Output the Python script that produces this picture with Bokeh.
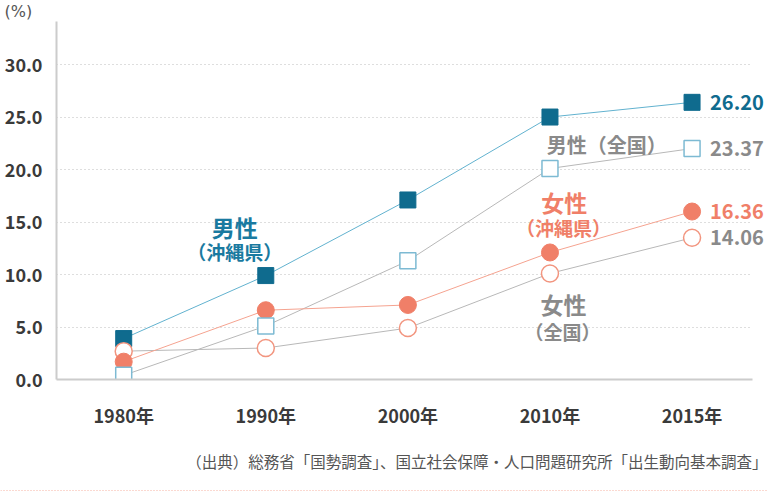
from bokeh.plotting import figure
from bokeh.models import Range1d, FixedTicker, Label, Span, ColumnDataSource
from bokeh.layouts import column
from bokeh.embed import file_html
from bokeh.resources import INLINE

# ---- data ----
years = ["1980年", "1990年", "2000年", "2010年", "2015年"]
male_okinawa = [3.9, 9.9, 17.1, 25.0, 26.4]
male_national = [0.4, 5.1, 11.3, 20.1, 22.0]
female_okinawa = [1.7, 6.6, 7.1, 12.1, 16.0]
female_national = [2.7, 3.0, 4.9, 10.1, 13.5]
end_labels = ["26.20", "23.37", "16.36", "14.06"]
y_ticks = [0, 5, 10, 15, 20, 25, 30]
source_note = "（出典）総務省「国勢調査」、国立社会保障・人口問題研究所「出生動向基本調査」"

FONT = "Noto Sans CJK JP"
TEAL = "#0f6b8e"
TEAL_TXT = "#1a7aa0"
TEAL_LINE = "#62b2cf"
SALMON = "#f07f68"
SALMON_LINE = "#f5a390"
GRAY_TXT = "#8a8a8a"
GRAY_LINE = "#b8b8b8"
SQ_BORDER = "#7dbad3"

xs = list(range(len(years)))
X0, X_AXIS_END, X_GRID_END, X1 = -0.473, 4.425, 4.411, 4.538
TOP_H = 21


def no_align(fig):
    try:
        fig.frame_align = False
    except Exception:
        pass


def strip(h):
    f = figure(width=768, height=h, output_backend="svg", toolbar_location=None,
               x_range=Range1d(0, 768), y_range=Range1d(h, 0),
               min_border=0, min_border_left=0, min_border_right=0,
               min_border_top=0, min_border_bottom=0)
    f.axis.visible = False
    f.grid.visible = False
    f.outline_line_color = None
    no_align(f)
    return f


# ---- top strip: unit label ----
p0 = strip(TOP_H)
p0.add_layout(Label(x=4, y=10.5, text="(%)", text_font="DejaVu Sans", text_font_size="16px",
                    text_color="#555555", text_align="left", text_baseline="middle"))

# ---- main chart ----
p = figure(width=768, height=430 - TOP_H, output_backend="svg", toolbar_location=None,
           x_range=Range1d(X0, X1), y_range=Range1d(0, 34.1),
           min_border_left=56, min_border_right=0, min_border_top=0, min_border_bottom=48)
p.outline_line_color = None
no_align(p)

p.yaxis.ticker = FixedTicker(ticks=y_ticks)
p.yaxis.major_label_overrides = {t: f"{t:.1f}" for t in y_ticks}
p.xaxis.ticker = FixedTicker(ticks=xs)
p.xaxis.major_label_overrides = {i: y for i, y in enumerate(years)}
p.xaxis.bounds = (X0, X_AXIS_END)
for ax in (p.xaxis, p.yaxis):
    ax.axis_line_color = "#cccccc"
    ax.axis_line_width = 2
    ax.major_tick_line_color = None
    ax.minor_tick_line_color = None
    ax.major_label_text_font = FONT
    ax.major_label_text_font_style = "bold"
    ax.major_label_text_font_size = "18px"
    ax.major_label_text_color = "#3a3a3a"
p.yaxis.major_label_standoff = 8
p.xaxis.major_label_standoff = 16

p.xgrid.grid_line_color = None
p.ygrid.ticker = FixedTicker(ticks=y_ticks[1:])
p.ygrid.grid_line_color = "#bdbdbd"
p.ygrid.grid_line_dash = "1 3"
p.ygrid.grid_line_width = 1
try:
    p.ygrid.cross_bounds = (X0, X_GRID_END)
except Exception:
    pass

src = ColumnDataSource(dict(x=xs, mo=male_okinawa, mn=male_national,
                            fo=female_okinawa, fn=female_national))

p.line("x", "mn", source=src, line_color=GRAY_LINE, line_width=1)
p.line("x", "fn", source=src, line_color=GRAY_LINE, line_width=1)
p.line("x", "fo", source=src, line_color=SALMON_LINE, line_width=1)
p.line("x", "mo", source=src, line_color=TEAL_LINE, line_width=1)

p.scatter("x", "mo", source=src, marker="square", size=16, fill_color=TEAL, line_color=TEAL)
p.scatter("x", "fn", source=src, marker="circle", size=17, fill_color="white",
          line_color="#f2957f", line_width=1.5)
p.scatter("x", "fo", source=src, marker="circle", size=17, fill_color=SALMON, line_color=SALMON)
p.scatter("x", "mn", source=src, marker="square", size=16, fill_color="white",
          line_color=SQ_BORDER, line_width=1.5)

last = len(years) - 1
for val, txt, col in zip([male_okinawa[last], male_national[last], female_okinawa[last], female_national[last]],
                         end_labels, [TEAL, GRAY_TXT, SALMON, GRAY_TXT]):
    p.add_layout(Label(x=last, y=val, x_offset=18, text=txt, text_font=FONT, text_font_style="bold",
                       text_font_size="20px", text_color=col, text_baseline="middle", text_align="left"))


def lab(x, y, text, col, size):
    p.add_layout(Label(x=x, y=y, text=text, text_font=FONT, text_font_style="bold",
                       text_font_size=size, text_color=col, text_align="center", text_baseline="middle"))


lab(0.781, 14.5, "男性", TEAL_TXT, "23px")
lab(0.781, 12.16, "（沖縄県）", TEAL_TXT, "19px")
lab(3.40, 22.4, "男性（全国）", GRAY_TXT, "20px")
lab(3.10, 16.9, "女性", SALMON, "23px")
lab(3.095, 14.5, "（沖縄県）", SALMON, "19px")
lab(3.095, 7.15, "女性", GRAY_TXT, "23px")
lab(3.088, 4.6, "（全国）", GRAY_TXT, "19px")

# ---- bottom strip: source note and dotted rule ----
p2 = strip(65)
p2.add_layout(Label(x=767, y=30, text=source_note, text_font=FONT, text_font_size="15.5px",
                    text_color="#555555", text_align="right", text_baseline="middle"))
p2.add_layout(Span(location=60, dimension="width", line_color="#f6b3a2", line_dash="1 2", line_width=1))

layout = column(p0, p, p2, spacing=0)
open("out.html", "w").write(file_html(layout, INLINE))
